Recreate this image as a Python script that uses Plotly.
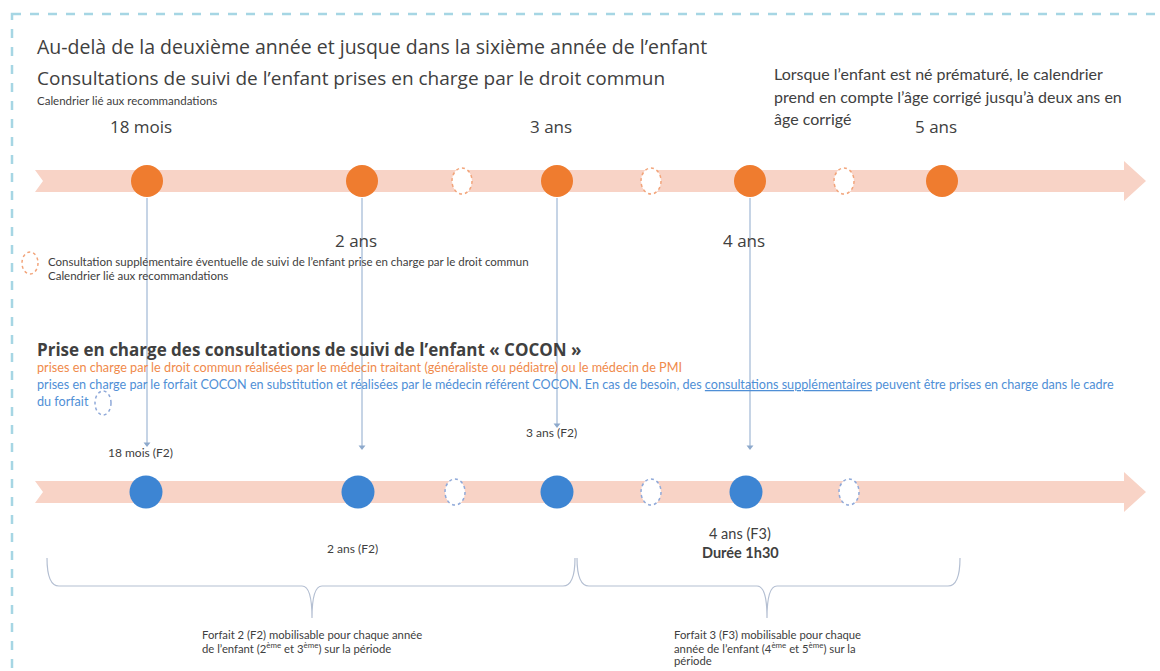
import plotly.graph_objects as go

# timeline positions (diagram units = pixels of the 1160x671 canvas)
top_x = [147, 362, 557, 750, 942]
top_labels = ["18 mois", "2 ans", "3 ans", "4 ans", "5 ans"]
top_extra_x = [462, 651, 844]

bottom_x = [146, 358, 557, 746]
bottom_labels = ["18 mois (F2)", "2 ans (F2)", "3 ans (F2)", "4 ans (F3)"]
bottom_extra_x = [455, 651, 849]

arrow_ends = [447, 450, 428, 450]

brace_spans = [[47, 575, 312], [577, 960, 767]]
brace_lines = [
    ["Forfait 2 (F2) mobilisable pour chaque année",
     "de l’enfant (2<sup>ème</sup> et 3<sup>ème</sup>) sur la période"],
    ["Forfait 3 (F3) mobilisable pour chaque",
     "année de l’enfant (4<sup>ème</sup> et 5<sup>ème</sup>) sur la",
     "période"],
]

TOP_Y = 181
BOT_Y = 492
GREY = "#404040"
ORANGE = "#ef7c2f"
BLUE = "#3d85d3"
BAND = "#f8d3c6"
ARROW = "#8da9cc"
FONT = "Lato"
TITLE_FONT = "Open Sans"


def arrow_path(y, x0=35, x1=1124, tip=1146, half=11, head=20, notch=8):
    return (f"M {x0},{y-half} L {x1},{y-half} L {x1},{y-head} L {tip},{y} "
            f"L {x1},{y+head} L {x1},{y+half} L {x0},{y+half} L {x0+notch},{y} Z")


def brace_path(x0, x1, xm, ytop=558, ymid=586, ybot=618):
    return (f"M {x0},{ytop} Q {x0},{ymid} {x0+12},{ymid} L {xm-10},{ymid} "
            f"Q {xm},{ymid} {xm},{ybot} Q {xm},{ymid} {xm+10},{ymid} "
            f"L {x1-12},{ymid} Q {x1},{ymid} {x1},{ytop}")


def dotted(cx, cy, color, rx=10, ry=13):
    return dict(type="circle", xref="x", yref="y", x0=cx - rx, x1=cx + rx,
                y0=cy - ry, y1=cy + ry, line=dict(color=color, width=1.5, dash="dot"),
                fillcolor="white")


def text(fig, x, y, s, size, color=GREY, anchor="left", bold=False, family=FONT):
    if bold:
        s = f"<b>{s}</b>"
    fig.add_annotation(x=x, y=y, text=s, showarrow=False, xanchor=anchor, yanchor="middle",
                       font=dict(family=family, size=size, color=color), align=anchor)


fig = go.Figure()

shapes = [
    dict(type="rect", xref="x", yref="y", x0=12, y0=14, x1=1175, y1=690,
         line=dict(color="#a6d6e4", width=2.5, dash="dash")),
    dict(type="path", path=arrow_path(TOP_Y), fillcolor=BAND, line=dict(width=0), layer="below"),
    dict(type="path", path=arrow_path(BOT_Y), fillcolor=BAND, line=dict(width=0), layer="below"),
]
for x0, x1, xm in brace_spans:
    shapes.append(dict(type="path", path=brace_path(x0, x1, xm), line=dict(color="#b4bfd2", width=1.2)))
for cx in top_extra_x:
    shapes.append(dotted(cx, TOP_Y, "#f2a47a"))
for cx in bottom_extra_x:
    shapes.append(dotted(cx, BOT_Y, "#8fa9d9"))
shapes.append(dotted(30, 263, "#f2a47a", rx=8, ry=11))
shapes.append(dotted(103, 403, "#8fa9d9", rx=8, ry=12))
fig.update_layout(shapes=shapes)

# vertical arrows from the common-law schedule to the COCON schedule
line_x, line_y = [], []
for x, yend in zip(top_x[:4], arrow_ends):
    line_x += [x, x, None]
    line_y += [TOP_Y + 17, yend - 3, None]
fig.add_trace(go.Scatter(x=line_x, y=line_y, mode="lines", line=dict(color=ARROW, width=1),
                         hoverinfo="skip"))
fig.add_trace(go.Scatter(x=top_x[:4], y=[e - 3 for e in arrow_ends], mode="markers",
                         marker=dict(symbol="triangle-down", size=6, color=ARROW), hoverinfo="skip"))

fig.add_trace(go.Scatter(x=top_x, y=[TOP_Y] * len(top_x), mode="markers",
                         marker=dict(size=32, color=ORANGE), hoverinfo="skip"))
fig.add_trace(go.Scatter(x=bottom_x, y=[BOT_Y] * len(bottom_x), mode="markers",
                         marker=dict(size=33, color=BLUE), hoverinfo="skip"))

for i, (x, lab) in enumerate(zip(top_x, top_labels)):
    y = 126 if i % 2 == 0 else 240
    text(fig, x - 6, y, lab, 17, anchor="center", family=TITLE_FONT)

bottom_label_y = [452, 548, 432, 533]
for i, (x, lab, y) in enumerate(zip(bottom_x, bottom_labels, bottom_label_y)):
    if i == 3:
        text(fig, x - 6, y, lab, 14.5, anchor="center")
        text(fig, x - 6, y + 19, "Durée 1h30", 14.5, anchor="center", bold=True)
    else:
        text(fig, x - 6, y, lab, 12, anchor="center")

text(fig, 35, 46, "Au-delà de la deuxième année et jusque dans la sixième année de l’enfant", 19.5,
     family=TITLE_FONT)
text(fig, 35, 78, "Consultations de suivi de l’enfant prises en charge par le droit commun", 19,
     family=TITLE_FONT)
text(fig, 35, 100, "Calendrier lié aux recommandations", 11.5)
text(fig, 772, 73, "Lorsque l’enfant est né prématuré, le calendrier", 16)
text(fig, 772, 96, "prend en compte l’âge corrigé jusqu’à deux ans en", 16)
text(fig, 772, 118, "âge corrigé", 16)

text(fig, 46, 261, "Consultation supplémentaire éventuelle de suivi de l’enfant prise en charge par le droit commun", 11.5)
text(fig, 46, 275, "Calendrier lié aux recommandations", 11.5)

text(fig, 35, 349, "Prise en charge des consultations de suivi de l’enfant « COCON »", 17, bold=True,
     family=TITLE_FONT)
text(fig, 35, 367, "prises en charge par le droit commun réalisées par le médecin traitant (généraliste ou pédiatre) ou le médecin de PMI",
     12.7, color="#f08a4b")
text(fig, 35, 384, "prises en charge par le forfait COCON en substitution et réalisées par le médecin référent COCON. En cas de besoin, des "
     "<u>consultations supplémentaires</u> peuvent être prises en charge dans le cadre", 12.6, color="#4f8fd6")
text(fig, 35, 401, "du forfait", 12.6, color="#4f8fd6")

for lines, xl in zip(brace_lines, [200, 672]):
    for j, line in enumerate(lines):
        text(fig, xl, 634 + 13 * j, line, 11.3)

fig.update_layout(
    width=1160, height=671,
    margin=dict(l=0, r=0, t=0, b=0),
    paper_bgcolor="white", plot_bgcolor="white",
    showlegend=False,
    xaxis=dict(range=[0, 1160], visible=False, fixedrange=True),
    yaxis=dict(range=[671, 0], visible=False, fixedrange=True),
)

fig.write_html("out.html", config={"displayModeBar": False},
               post_script="document.body.style.margin='0';")
